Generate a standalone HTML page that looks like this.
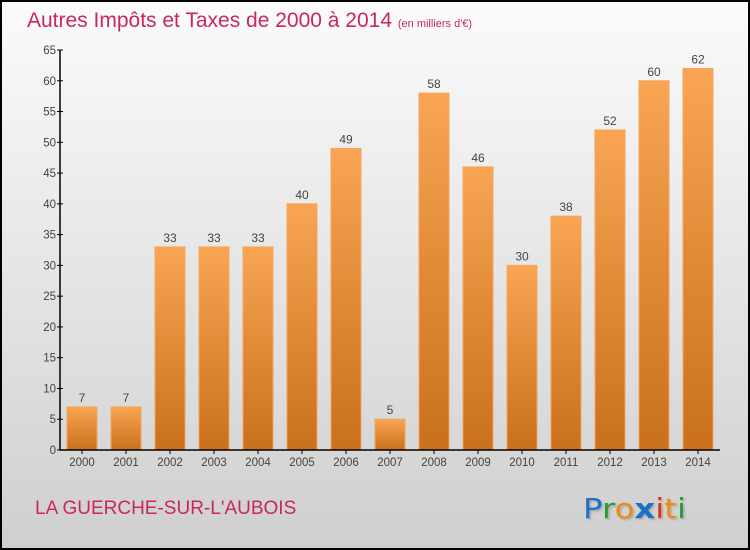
<!DOCTYPE html>
<html><head><meta charset="utf-8"><style>
body{margin:0;width:750px;height:550px;overflow:hidden}
svg{display:block;font-family:"Liberation Sans","DejaVu Sans",sans-serif}
</style></head><body>
<svg width="750" height="550">
<defs>
<linearGradient id="bg" x1="0" y1="0" x2="0" y2="1"><stop offset="0" stop-color="#fbfbfb"/><stop offset="1" stop-color="#cfcfcf"/></linearGradient>
<linearGradient id="bar" x1="0" y1="0" x2="0" y2="1"><stop offset="0" stop-color="#f9a553"/><stop offset="1" stop-color="#c8701e"/></linearGradient>
<filter id="sh"><feDropShadow dx="1.5" dy="1.5" stdDeviation="1" flood-color="#888" flood-opacity="0.6"/></filter>
</defs>
<rect x="1" y="1" width="748" height="548" fill="url(#bg)" stroke="#000" stroke-width="2"/>
<text x="27" y="27" font-size="21" fill="#c8285a">Autres Impôts et Taxes de 2000 à 2014 <tspan font-size="11">(en milliers d'€)</tspan></text>
<g id="plot"></g>
<text x="35" y="514" font-size="19" fill="#c8285a">LA GUERCHE-SUR-L'AUBOIS</text>
<g filter="url(#sh)" font-size="28" font-family="'DejaVu Sans',sans-serif">
<text x="583" y="518" textLength="103" lengthAdjust="spacingAndGlyphs"><tspan fill="#1a6fc8">P</tspan><tspan fill="#2a9a3a">r</tspan><tspan fill="#f08a10">o</tspan><tspan fill="#1a6fc8" font-weight="bold">x</tspan><tspan fill="#e03010">i</tspan><tspan fill="#f08a10">t</tspan><tspan fill="#2a9a3a">i</tspan></text>
</g>
</svg>
<script>
const years=["2000","2001","2002","2003","2004","2005","2006","2007","2008","2009","2010","2011","2012","2013","2014"];
const values=[7,7,33,33,33,40,49,5,58,46,30,38,52,60,62];
const yTicks=[0,5,10,15,20,25,30,35,40,45,50,55,60,65];
const ns="http://www.w3.org/2000/svg";
const g=document.getElementById('plot');
const y0=450,yTop=50,yMax=65,x0=60;
const ys=v=>y0-(v/yMax)*(y0-yTop);
const xs=i=>82+i*44;
function mk(t,a){const e=document.createElementNS(ns,t);for(const k in a)e.setAttribute(k,a[k]);g.appendChild(e);return e;}
values.forEach((v,i)=>{
 const r=mk('rect',{x:xs(i)-15,y:ys(v),width:30,height:y0-ys(v),fill:'url(#bar)',stroke:'#f5a55a','stroke-width':1});
 
 
 const t=mk('text',{x:xs(i),y:ys(v)-5,'text-anchor':'middle','font-size':12,fill:'#444'});t.textContent=v;
 
 
 const l=mk('text',{x:xs(i),y:466,'text-anchor':'middle','font-size':11.5,fill:'#444'});l.textContent=years[i];
 
 
 mk('line',{x1:xs(i),x2:xs(i),y1:y0,y2:y0+4,stroke:'#000'});
});
yTicks.forEach(v=>{
 mk('line',{x1:x0-3,x2:x0+3,y1:ys(v),y2:ys(v),stroke:'#000'});
 const t=mk('text',{x:x0-4,y:ys(v)+4,'text-anchor':'end','font-size':11.5,fill:'#444'});t.textContent=v;
 
 
});
const ya=mk('line',{x1:x0,x2:x0,y1:yTop,y2:y0,stroke:'#000','stroke-width':1.5});


const xa=mk('line',{x1:x0,x2:720,y1:y0,y2:y0,stroke:'#000','stroke-width':1.5});


</script>
</body></html>
